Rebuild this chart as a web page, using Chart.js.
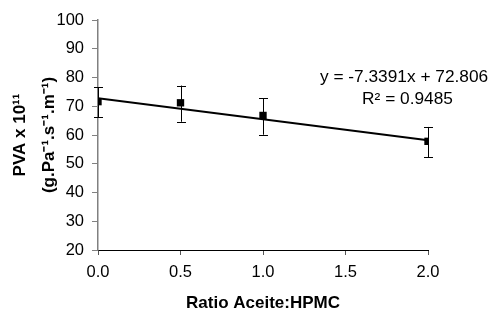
<!DOCTYPE html>
<html><head><meta charset="utf-8">
<script src="https://cdn.jsdelivr.net/npm/chart.js@4/dist/chart.umd.min.js"></script>
<style>html,body{margin:0;padding:0;background:#fff}#wrap{width:492px;height:322px}</style>
</head><body><div id="wrap"><canvas id="c"></canvas></div>
<script>
const ratio = [0.0, 0.5, 1.0, 2.0];
const pva = [71.6, 71.2, 66.8, 57.8];
const errHigh = [76.6, 77.2, 72.8, 62.8];
const errLow = [66.2, 64.6, 60.1, 52.3];
const trendX = [0.0, 2.0];
const trendY = [72.806, 58.128];
const xTicks = [0, 0.5, 1.0, 1.5, 2.0];
const yTicks = [20, 30, 40, 50, 60, 70, 80, 90, 100];
const eqLine1 = 'y = -7.3391x + 72.806';
const eqLine2 = 'R² = 0.9485';

const FONT = "'Liberation Sans', Arial, sans-serif";

const errorBars = {
  id: 'errorBars',
  afterDatasetsDraw(chart) {
    const ctx = chart.ctx, xs = chart.scales.x, ys = chart.scales.y;
    ctx.save();
    ctx.strokeStyle = '#000';
    ctx.lineWidth = 1;
    ratio.forEach((r, i) => {
      const px = Math.round(xs.getPixelForValue(r)) + 0.5;
      const top = ys.getPixelForValue(errHigh[i]);
      const bot = ys.getPixelForValue(errLow[i]);
      ctx.beginPath();
      ctx.moveTo(px, top); ctx.lineTo(px, bot);
      ctx.moveTo(px - 4.5, Math.round(top) + 0.5); ctx.lineTo(px + 4.5, Math.round(top) + 0.5);
      ctx.moveTo(px - 4.5, Math.round(bot) + 0.5); ctx.lineTo(px + 4.5, Math.round(bot) + 0.5);
      ctx.stroke();
    });
    ctx.restore();
    // trendline equation text (slightly stretched horizontally)
    ctx.save();
    ctx.fillStyle = '#000';
    ctx.font = '16px ' + FONT;
    ctx.textBaseline = 'middle';
    ctx.translate(320, 0);
    ctx.scale(1.08, 1);
    ctx.textAlign = 'left';
    ctx.fillText(eqLine1, 0, 78);
    ctx.restore();
    ctx.save();
    ctx.fillStyle = '#000';
    ctx.font = '16px ' + FONT;
    ctx.textBaseline = 'middle';
    ctx.translate(407.5, 0);
    ctx.scale(1.08, 1);
    ctx.textAlign = 'center';
    ctx.fillText(eqLine2, 0, 100);
    ctx.restore();
  }
};

new Chart(document.getElementById('c'), {
  type: 'scatter',
  data: {
    datasets: [
      {
        data: trendX.map((x, i) => ({x, y: trendY[i]})),
        showLine: true, borderColor: '#000', borderWidth: 2,
        pointRadius: 0, order: 2
      },
      {
        data: ratio.map((x, i) => ({x, y: pva[i]})),
        pointStyle: 'rect', pointRadius: 5.2,
        backgroundColor: '#000', borderColor: '#000', borderWidth: 0, order: 1
      }
    ]
  },
  plugins: [errorBars],
  options: {
    responsive: true, maintainAspectRatio: false, animation: false,
    layout: { padding: { left: 0, right: 64, top: 20, bottom: 0 } },
    plugins: { legend: { display: false }, tooltip: { enabled: false } },
    scales: {
      x: {
        type: 'linear', min: 0, max: 2,
        afterBuildTicks: s => { s.ticks = xTicks.map(v => ({value: v})); },
        afterFit: s => { s.height = 72; },
        ticks: { color: '#000', font: { family: FONT, size: 16.5 }, padding: 8,
          callback: v => Number(v).toFixed(1), maxRotation: 0 },
        grid: { drawOnChartArea: false, drawTicks: true, tickLength: 5, color: '#555' },
        border: { color: '#000', width: 1 },
        title: { display: true, text: 'Ratio Aceite:HPMC', color: '#000',
          font: { family: FONT, size: 17, weight: 'bold' }, padding: { top: 4, bottom: 8 } }
      },
      y: {
        min: 20, max: 100,
        afterBuildTicks: s => { s.ticks = yTicks.map(v => ({value: v})); },
        afterFit: s => { s.width = 98; },
        ticks: { color: '#000', font: { family: FONT, size: 16.5 }, padding: 8 },
        grid: { drawOnChartArea: false, drawTicks: true, tickLength: 6, color: '#808080' },
        border: { color: '#808080', width: 1.5 },
        title: { display: true, text: ['PVA x 10¹¹', '(g.Pa⁻¹.s⁻¹.m⁻¹)'], color: '#000',
          font: { family: FONT, size: 17, weight: 'bold', lineHeight: 1.7 }, padding: { top: 6, bottom: 0 } }
      }
    }
  }
});
</script></body></html>
